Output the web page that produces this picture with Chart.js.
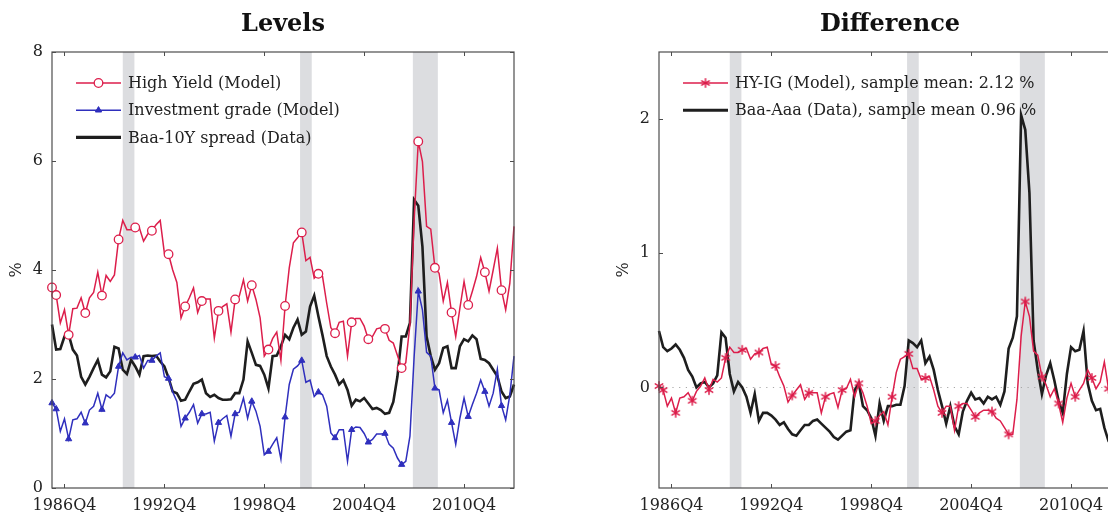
<!DOCTYPE html>
<html>
<head>
<meta charset="utf-8">
<script src="https://cdn.jsdelivr.net/npm/chart.js@4.4.0/dist/chart.umd.min.js"></script>
<style>
  html, body { margin: 0; padding: 0; background: #fff; overflow: hidden; width: 1108px; height: 512px; }
  canvas { position: absolute; top: 0; }
  #levels { left: 0; }
  #diff { left: 607px; }
</style>
</head>
<body>
<canvas id="levels" width="562" height="512"></canvas>
<canvas id="diff" width="562" height="512"></canvas>
<script>
// ---- Quarterly sample, 1986Q1 - 2013Q4 ----
const firstYear = 1986;
const lastYear = 2013;
const quarters = [];
for (let yr = firstYear; yr <= lastYear; yr++) {
  for (let q = 1; q <= 4; q++) quarters.push(yr + 'Q' + q);
}
const xTickLabels = ['1986Q4', '1992Q4', '1998Q4', '2004Q4', '2010Q4'];
const levelTicks = [0, 2, 4, 6, 8];
const diffTicks = [0, 1, 2];

// NBER recessions, in quarter positions on the axis (start, end)
const recessionBands = [[17.0, 19.8], [59.6, 62.4], [86.7, 92.7]];

// Spread levels, %
const highYieldModel = [
  3.68, 3.54, 3.03, 3.27, 2.81, 3.29, 3.30, 3.49, 3.21, 3.49, 3.59, 3.96, 3.53, 3.90, 3.79, 3.91,
  4.56, 4.91, 4.74, 4.74, 4.78, 4.77, 4.53, 4.66, 4.72, 4.83, 4.91, 4.31, 4.29, 4.00, 3.77, 3.12,
  3.33, 3.49, 3.67, 3.22, 3.43, 3.47, 3.47, 2.75, 3.25, 3.33, 3.38, 2.86, 3.46, 3.52, 3.82, 3.43,
  3.72, 3.46, 3.12, 2.42, 2.54, 2.74, 2.86, 2.34, 3.34, 4.04, 4.50, 4.59, 4.69, 4.17, 4.23, 3.85,
  3.93, 3.88, 3.39, 2.94, 2.84, 3.04, 3.06, 2.42, 3.04, 3.11, 3.11, 2.97, 2.73, 2.78, 2.92, 2.94,
  2.92, 2.71, 2.66, 2.43, 2.20, 2.30, 3.00, 4.90, 6.36, 5.99, 4.80, 4.75, 4.04, 3.94, 3.43, 3.77,
  3.22, 2.78, 3.30, 3.79, 3.36, 3.61, 3.88, 4.23, 3.96, 3.61, 4.00, 4.40, 3.63, 3.27, 3.76, 4.80
];
const investmentGradeModel = [
  1.56, 1.45, 1.04, 1.27, 0.90, 1.25, 1.27, 1.39, 1.19, 1.43, 1.50, 1.74, 1.44, 1.71, 1.65, 1.74,
  2.23, 2.48, 2.35, 2.40, 2.40, 2.43, 2.20, 2.34, 2.34, 2.42, 2.48, 2.04, 2.01, 1.76, 1.59, 1.13,
  1.28, 1.39, 1.53, 1.19, 1.36, 1.36, 1.39, 0.86, 1.20, 1.27, 1.33, 0.95, 1.36, 1.39, 1.65, 1.28,
  1.59, 1.41, 1.13, 0.61, 0.67, 0.80, 0.92, 0.53, 1.30, 1.90, 2.18, 2.24, 2.34, 1.94, 1.98, 1.68,
  1.76, 1.71, 1.50, 1.01, 0.92, 1.07, 1.07, 0.49, 1.07, 1.12, 1.11, 1.00, 0.84, 0.89, 0.99, 0.99,
  1.00, 0.80, 0.73, 0.55, 0.43, 0.49, 0.95, 2.40, 3.61, 3.27, 2.49, 2.42, 1.83, 1.80, 1.38, 1.61,
  1.20, 0.80, 1.28, 1.65, 1.31, 1.53, 1.74, 1.98, 1.77, 1.50, 1.74, 2.18, 1.51, 1.25, 1.71, 2.42
];
const baa10ySpread = [
  3.00, 2.54, 2.55, 2.78, 2.82, 2.54, 2.43, 2.04, 1.90, 2.04, 2.20, 2.35, 2.08, 2.03, 2.14, 2.59,
  2.56, 2.17, 2.09, 2.35, 2.23, 2.08, 2.42, 2.43, 2.42, 2.43, 2.32, 2.23, 2.02, 1.77, 1.74, 1.60,
  1.62, 1.77, 1.91, 1.94, 1.99, 1.74, 1.67, 1.71, 1.65, 1.62, 1.62, 1.63, 1.74, 1.74, 1.99, 2.69,
  2.48, 2.26, 2.24, 2.08, 1.83, 2.42, 2.43, 2.60, 2.81, 2.73, 2.94, 3.09, 2.81, 2.87, 3.33, 3.53,
  3.15, 2.80, 2.42, 2.23, 2.08, 1.90, 1.98, 1.80, 1.51, 1.62, 1.59, 1.65, 1.55, 1.45, 1.47, 1.43,
  1.36, 1.38, 1.58, 2.05, 2.78, 2.78, 3.03, 5.29, 5.18, 4.43, 2.78, 2.42, 2.17, 2.29, 2.57, 2.60,
  2.20, 2.20, 2.60, 2.73, 2.69, 2.80, 2.73, 2.37, 2.35, 2.29, 2.17, 2.05, 1.77, 1.65, 1.68, 1.90
];

// Spread differences, demeaned, %
const hyIgDiffModel = [
   0.01, -0.02, -0.14, -0.08, -0.19, -0.08, -0.07, -0.04, -0.10, -0.03,  0.01,  0.07, -0.02,  0.06,  0.04,  0.07,
   0.22,  0.30,  0.26,  0.26,  0.28,  0.29,  0.21,  0.25,  0.26,  0.29,  0.30,  0.17,  0.16,  0.08,  0.01, -0.11,
  -0.06, -0.02,  0.02, -0.09, -0.04, -0.04, -0.04, -0.19, -0.07, -0.05, -0.04, -0.15, -0.02, -0.01,  0.06, -0.07,
   0.03, -0.04, -0.14, -0.27, -0.25, -0.21, -0.18, -0.28, -0.07,  0.11,  0.21,  0.23,  0.25,  0.14,  0.14,  0.06,
   0.07,  0.08, -0.02, -0.14, -0.19, -0.14, -0.14, -0.32, -0.14, -0.12, -0.12, -0.17, -0.22, -0.19, -0.17, -0.17,
  -0.18, -0.23, -0.25, -0.30, -0.35, -0.35, -0.09,  0.38,  0.64,  0.53,  0.27,  0.24,  0.08,  0.02, -0.07, -0.01,
  -0.12, -0.26, -0.08,  0.03, -0.07, -0.02,  0.03,  0.13,  0.07, -0.01,  0.04,  0.19, -0.01, -0.10, -0.07,  0.26
];
const baaAaaDiffData = [
   0.42,  0.30,  0.27,  0.29,  0.32,  0.28,  0.22,  0.13,  0.08,  0.00,  0.03,  0.04,  0.00,  0.03,  0.09,  0.41,
   0.37,  0.10, -0.03,  0.04,  0.00, -0.07, -0.19, -0.05, -0.25, -0.19, -0.19, -0.21, -0.24, -0.28, -0.26, -0.31,
  -0.35, -0.36, -0.32, -0.28, -0.28, -0.25, -0.24, -0.27, -0.30, -0.33, -0.37, -0.39, -0.36, -0.33, -0.32, -0.02,
   0.03, -0.14, -0.17, -0.23, -0.36, -0.12, -0.25, -0.14, -0.14, -0.13, -0.13,  0.01,  0.35,  0.33,  0.30,  0.35,
   0.18,  0.23,  0.13, -0.02, -0.14, -0.27, -0.14, -0.29, -0.35, -0.18, -0.10, -0.04, -0.09, -0.08, -0.12, -0.07,
  -0.09, -0.07, -0.13, -0.03,  0.29,  0.37,  0.53,  2.03,  1.92,  1.45,  0.35,  0.13, -0.05,  0.09,  0.18,  0.05,
  -0.10, -0.19,  0.10,  0.30,  0.27,  0.28,  0.42,  0.03, -0.10, -0.17, -0.16, -0.30, -0.40, -0.45, -0.42, -0.45
];

// ---- Styling ----
const RED = '#dc1e4b';
const BLUE = '#2f2fbd';
const BLACK = '#1e1e1e';
const SHADE = '#dcdde0';
const FRAME = '#4d4d4d';
const TEXT = '#222222';
const FONT = '"DejaVu Serif", "Liberation Serif", serif';

// marks on the first two quarters and then every fourth quarter
const hasMark = i => i === 1 || i % 4 === 0;

// six-armed asterisk mark
function asteriskMark(color) {
  const c = document.createElement('canvas');
  c.width = 12; c.height = 12;
  const g = c.getContext('2d');
  g.strokeStyle = color; g.lineWidth = 1.5; g.lineCap = 'round';
  g.translate(6, 6);
  for (let k = 0; k < 3; k++) {
    const ang = Math.PI / 2 + k * Math.PI / 3;
    const dx = Math.cos(ang) * 4.3, dy = Math.sin(ang) * 4.3;
    g.beginPath(); g.moveTo(-dx, -dy); g.lineTo(dx, dy); g.stroke();
  }
  return c;
}
const starMark = asteriskMark(RED);

function lineSet(label, data, color, width, mark) {
  const ds = {
    label, data,
    borderColor: color, borderWidth: width,
    backgroundColor: color,
    tension: 0, clip: 10,
    pointRadius: 0, pointHoverRadius: 0,
    legendMark: mark || null
  };
  if (mark) {
    ds.pointStyle = mark.style;
    ds.pointRadius = ctx => hasMark(ctx.dataIndex) ? mark.radius : 0;
    ds.pointBackgroundColor = mark.fill;
    ds.pointBorderColor = color;
    ds.pointBorderWidth = mark.border;
  }
  return ds;
}

function decor(opts) {
  return {
    id: 'decor',
    beforeDatasetsDraw(chart) {
      const { ctx, chartArea: a, scales: { x, y } } = chart;
      ctx.save();
      ctx.fillStyle = SHADE;
      for (const [s, e] of recessionBands) {
        const x0 = x.getPixelForValue(s), x1 = x.getPixelForValue(e);
        ctx.fillRect(x0, a.top, x1 - x0, a.bottom - a.top);
      }
      if (opts.zeroLine) {
        const yz = Math.round(y.getPixelForValue(0)) + 0.5;
        ctx.strokeStyle = '#a8a8a8';
        ctx.lineWidth = 1;
        ctx.setLineDash([1.2, 5.5]);
        ctx.beginPath(); ctx.moveTo(a.left, yz); ctx.lineTo(a.right, yz); ctx.stroke();
      }
      ctx.restore();
    },
    afterDatasetsDraw(chart) {
      const { ctx, chartArea: a, scales: { x, y } } = chart;
      ctx.save();
      ctx.strokeStyle = FRAME;
      ctx.lineWidth = 1.2;
      ctx.strokeRect(a.left, a.top, a.right - a.left, a.bottom - a.top);
      ctx.lineWidth = 1;
      ctx.beginPath();
      for (const t of x.ticks) {
        const px = Math.round(x.getPixelForValue(t.value)) + 0.5;
        ctx.moveTo(px, a.bottom); ctx.lineTo(px, a.bottom - 4);
        ctx.moveTo(px, a.top); ctx.lineTo(px, a.top + 4);
      }
      for (const t of y.ticks) {
        const py = Math.round(y.getPixelForValue(t.value)) + 0.5;
        ctx.moveTo(a.left, py); ctx.lineTo(a.left + 4, py);
        ctx.moveTo(a.right, py); ctx.lineTo(a.right - 4, py);
      }
      ctx.stroke();
      ctx.restore();
    },
    afterDraw(chart) {
      const { ctx, chartArea: a } = chart;
      ctx.save();
      // panel title
      ctx.fillStyle = '#111';
      ctx.font = 'bold 24px ' + FONT;
      ctx.textAlign = 'center';
      ctx.textBaseline = 'middle';
      ctx.fillText(opts.title, (a.left + a.right) / 2, 25);
      // unit label on the value axis
      ctx.font = '16px ' + FONT;
      ctx.fillStyle = TEXT;
      ctx.save();
      ctx.translate(a.left - 35, (a.top + a.bottom) / 2);
      ctx.rotate(-Math.PI / 2);
      ctx.fillText('%', 0, 0);
      ctx.restore();
      // legend
      const x0 = a.left + 24, x1 = a.left + 69, tx = a.left + 76;
      chart.data.datasets.forEach((ds, k) => {
        const ry = a.top + 31 + k * 27.2;
        ctx.strokeStyle = ds.borderColor;
        ctx.lineWidth = ds.borderWidth + (ds.legendMark ? 0 : 0.5);
        ctx.beginPath(); ctx.moveTo(x0, ry); ctx.lineTo(x1, ry); ctx.stroke();
        const m = ds.legendMark;
        if (m) {
          ctx.fillStyle = m.fill;
          ctx.strokeStyle = ds.borderColor;
          ctx.lineWidth = m.border;
          Chart.helpers.drawPoint(ctx, {
            pointStyle: m.style, radius: m.radius, rotation: 0, borderWidth: m.border
          }, (x0 + x1) / 2, ry);
        }
        ctx.fillStyle = TEXT;
        ctx.font = '16px ' + FONT;
        ctx.textAlign = 'left';
        ctx.textBaseline = 'middle';
        ctx.fillText(ds.label, tx, ry + 1);
      });
      ctx.restore();
    }
  };
}

function panel(canvasId, cfg) {
  return new Chart(document.getElementById(canvasId), {
    type: 'line',
    data: { labels: quarters, datasets: cfg.datasets },
    options: {
      responsive: false,
      animation: false,
      devicePixelRatio: 1,
      layout: { padding: { top: 52, right: 48, left: 0, bottom: 0 } },
      plugins: { legend: { display: false }, tooltip: { enabled: false }, title: { display: false } },
      scales: {
        x: {
          type: 'category',
          offset: false,
          grid: { display: false, drawTicks: false, tickLength: 0 },
          border: { display: false },
          ticks: {
            autoSkip: false, maxRotation: 0, minRotation: 0,
            padding: 8, color: TEXT, font: { family: FONT, size: 16 }
          },
          afterBuildTicks: s => { s.ticks = xTickLabels.map(l => ({ value: quarters.indexOf(l) })); },
          afterFit: s => { s.height = 24; }
        },
        y: {
          type: 'linear',
          min: cfg.yMin, max: cfg.yMax,
          grid: { display: false, drawTicks: false, tickLength: 0 },
          border: { display: false },
          ticks: { padding: 9, color: TEXT, font: { family: FONT, size: 16 } },
          afterBuildTicks: s => { s.ticks = cfg.yTicks.map(v => ({ value: v })); },
          afterFit: s => { s.width = 52; }
        }
      }
    },
    plugins: [decor(cfg)]
  });
}

panel('levels', {
  title: 'Levels',
  yMin: 0, yMax: 8, yTicks: levelTicks,
  datasets: [
    lineSet('High Yield (Model)', highYieldModel, RED, 1.5,
      { style: 'circle', radius: 4.3, fill: '#ffffff', border: 1.3 }),
    lineSet('Investment grade (Model)', investmentGradeModel, BLUE, 1.5,
      { style: 'triangle', radius: 3.6, fill: BLUE, border: 1 }),
    lineSet('Baa-10Y spread (Data)', baa10ySpread, BLACK, 2.6)
  ]
});

panel('diff', {
  title: 'Difference',
  yMin: -0.75, yMax: 2.5, yTicks: diffTicks,
  zeroLine: true,
  datasets: [
    lineSet('HY-IG (Model), sample mean: 2.12 %', hyIgDiffModel, RED, 1.5,
      { style: starMark, radius: 4, fill: RED, border: 1.5 }),
    lineSet('Baa-Aaa (Data), sample mean 0.96 %', baaAaaDiffData, BLACK, 2.6)
  ]
});
</script>
</body>
</html>
